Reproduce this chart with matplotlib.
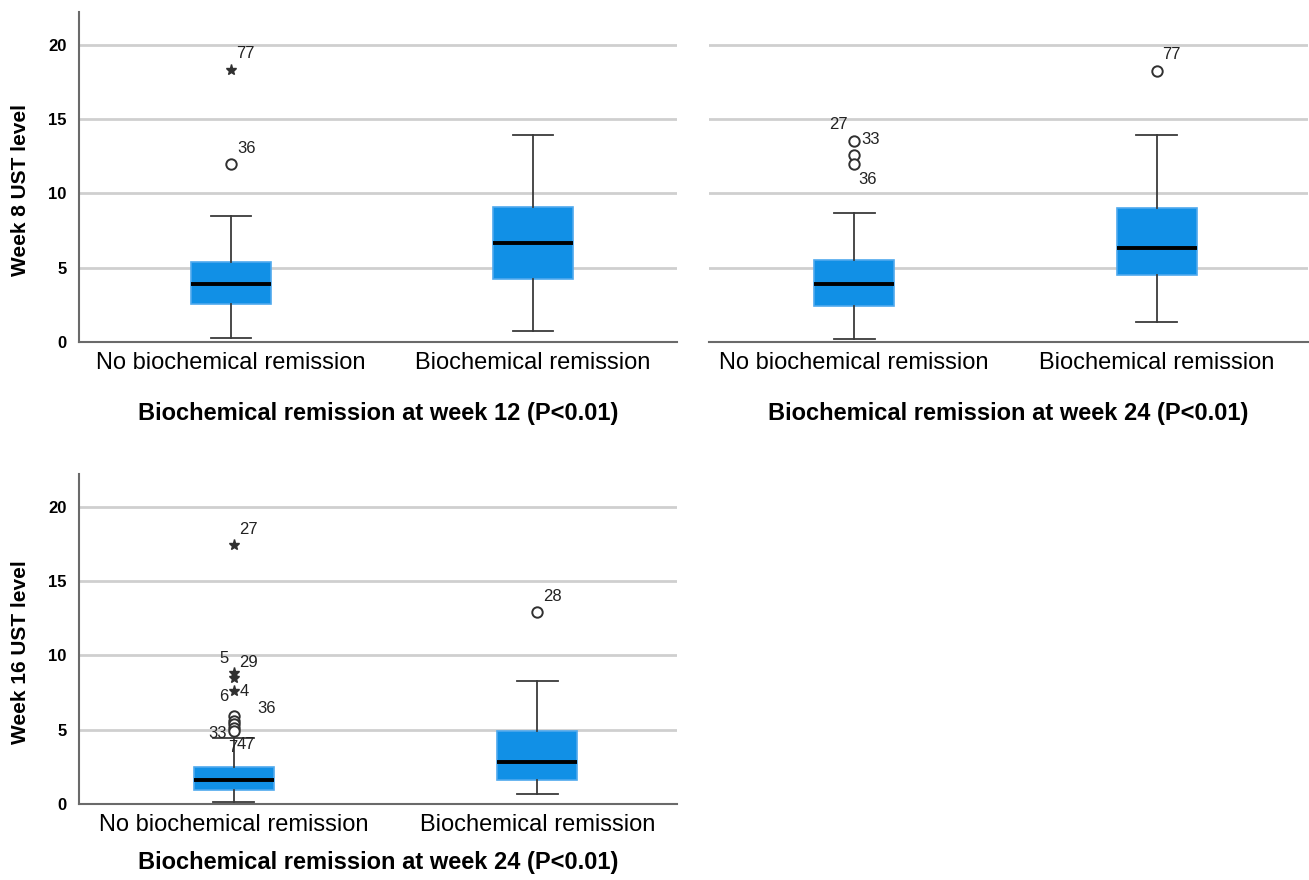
import matplotlib.pyplot as plt

plt.rcParams['font.family'] = ['Liberation Sans', 'DejaVu Sans']

groups = ['No biochemical remission', 'Biochemical remission']

# week 8 level vs remission at week 12
w8_w12_q1 = [2.55, 4.23]
w8_w12_med = [3.9, 6.65]
w8_w12_q3 = [5.4, 9.05]
w8_w12_lo = [0.27, 0.75]
w8_w12_hi = [8.5, 13.95]
w8_w12_out = [[12.0, 18.3], []]
w8_w12_kind = [['o', '*'], []]

# week 8 level vs remission at week 24
w8_w24_q1 = [2.4, 4.5]
w8_w24_med = [3.9, 6.3]
w8_w24_q3 = [5.5, 9.0]
w8_w24_lo = [0.2, 1.35]
w8_w24_hi = [8.65, 13.9]
w8_w24_out = [[13.55, 12.55, 12.0], [18.25]]
w8_w24_kind = [['o', 'o', 'o'], ['o']]

# week 16 level vs remission at week 24
w16_w24_q1 = [0.95, 1.6]
w16_w24_med = [1.6, 2.8]
w16_w24_q3 = [2.5, 4.9]
w16_w24_lo = [0.15, 0.7]
w16_w24_hi = [4.45, 8.3]
w16_w24_out = [[17.4, 8.8, 8.5, 7.6, 5.95, 5.6, 5.35, 5.1, 4.9], [12.9]]
w16_w24_kind = [['*', '*', '*', '*', 'o', 'o', 'o', 'o', 'o'], ['o']]

# case numbers: (group, value they belong to, text)
w8_w12_cases = [(1, 18.3, '77'), (1, 12.0, '36')]
w8_w24_cases = [(1, 13.55, '27'), (1, 13.55, '33'), (1, 12.0, '36'), (2, 18.25, '77')]
w16_w24_cases = [(1, 17.4, '27'), (1, 8.8, '5'), (1, 8.8, '29'), (1, 7.6, '4'),
                 (1, 7.6, '6'), (1, 5.95, '36'), (1, 4.9, '33'), (1, 4.45, '7'),
                 (1, 4.45, '47'), (2, 12.9, '28')]

# label placement next to each point, in pixels (dx right, dy up)
w8_w12_offsets = [(14, 16), (16, 15)]
w8_w24_offsets = [(-16, 16), (16, 1), (13, -16), (15, 16)]
w16_w24_offsets = [(14, 16), (-10, 15), (15, 11), (10, 0), (-10, -5), (33, 7),
                   (-16, -2), (-1, -10), (12, -7), (15, 16)]

BLUE = '#1190e6'
EDGE = '#4fa9ee'


def draw_panel(ax, q1, med, q3, lo, hi, outs, kinds, cases, offsets, xlim,
               ylabel, xlabel, labelpad):
    stats = []
    for i in range(2):
        stats.append({'q1': q1[i], 'med': med[i], 'q3': q3[i],
                      'whislo': lo[i], 'whishi': hi[i], 'fliers': []})
    ax.bxp(stats, positions=[1, 2], widths=0.265, patch_artist=True,
           showfliers=False,
           boxprops=dict(facecolor=BLUE, edgecolor=EDGE, linewidth=1.2),
           medianprops=dict(color='black', linewidth=2.8),
           whiskerprops=dict(color='#3a3a3a', linewidth=1.3),
           capprops=dict(color='#3a3a3a', linewidth=1.3),
           capwidths=0.135, zorder=3)
    for i in range(2):
        for v, k in zip(outs[i], kinds[i]):
            if k == 'o':
                ax.plot(i + 1, v, 'o', ms=7.5, mfc='white', mec='#303030', mew=1.4, zorder=4)
            else:
                ax.plot(i + 1, v, '*', ms=8, color='#303030', zorder=4)
    for (g, v, c), (dx, dy) in zip(cases, offsets):
        ax.annotate(c, (g, v), xytext=(dx, dy), textcoords='offset pixels',
                    fontsize=12, color='#222222', ha='center', va='center')
    ax.set_xlim(*xlim)
    ax.set_ylim(0, 22.2)
    ax.set_yticks([0, 5, 10, 15, 20])
    ax.set_xticks([1, 2])
    ax.set_xticklabels(groups, fontsize=17)
    ax.tick_params(length=0)
    ax.tick_params(axis='x', pad=7)
    ax.tick_params(axis='y', pad=9)
    for t in ax.get_yticklabels():
        t.set_fontsize(12)
        t.set_fontweight('bold')
    for y in [5, 10, 15, 20]:
        ax.axhline(y, color='#cfcfcf', linewidth=2, zorder=1)
    for s in ['top', 'right']:
        ax.spines[s].set_visible(False)
    ax.spines['left'].set_color('#6a6a6a')
    ax.spines['bottom'].set_color('#6a6a6a')
    ax.spines['left'].set_linewidth(1.5)
    ax.spines['bottom'].set_linewidth(1.5)
    ax.set_xlabel(xlabel, fontsize=17, fontweight='bold', labelpad=labelpad)
    if ylabel:
        ax.set_ylabel(ylabel, fontsize=15, fontweight='bold')
        ax.yaxis.set_label_coords(-0.082, 0.46)


fig = plt.figure(figsize=(13.09, 8.80), dpi=100)
ax1 = fig.add_axes([79 / 1309, 1 - 342 / 880, 598 / 1309, 330 / 880])
ax2 = fig.add_axes([709 / 1309, 1 - 342 / 880, 599 / 1309, 330 / 880])
ax3 = fig.add_axes([79 / 1309, 1 - 804 / 880, 598 / 1309, 330 / 880])

draw_panel(ax1, w8_w12_q1, w8_w12_med, w8_w12_q3, w8_w12_lo, w8_w12_hi,
           w8_w12_out, w8_w12_kind, w8_w12_cases, w8_w12_offsets, (0.497, 2.477),
           'Week 8 UST level', 'Biochemical remission at week 12 (P<0.01)', 20)
draw_panel(ax2, w8_w24_q1, w8_w24_med, w8_w24_q3, w8_w24_lo, w8_w24_hi,
           w8_w24_out, w8_w24_kind, w8_w24_cases, w8_w24_offsets, (0.52, 2.50),
           None, 'Biochemical remission at week 24 (P<0.01)', 20)
draw_panel(ax3, w16_w24_q1, w16_w24_med, w16_w24_q3, w16_w24_lo, w16_w24_hi,
           w16_w24_out, w16_w24_kind, w16_w24_cases, w16_w24_offsets, (0.489, 2.461),
           'Week 16 UST level', 'Biochemical remission at week 24 (P<0.01)', 11)

# right panel shares the y scale, no axis drawn
ax2.spines['left'].set_visible(False)
ax2.set_yticklabels([])

fig.savefig('out.png', dpi=100)
